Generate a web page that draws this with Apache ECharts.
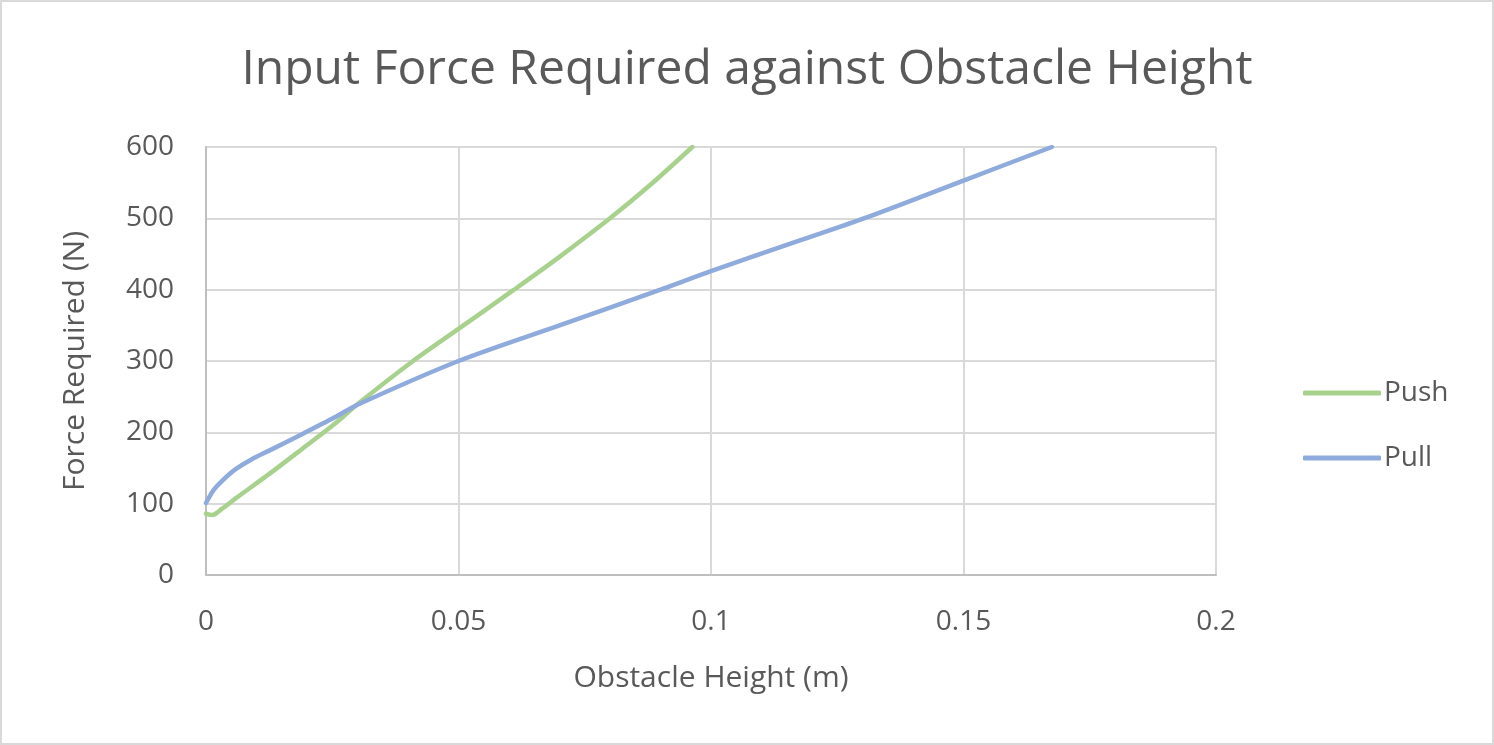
<!DOCTYPE html>
<html>
<head>
<meta charset="utf-8">
<title>Input Force Required against Obstacle Height</title>
<script src="https://cdn.jsdelivr.net/npm/echarts@6/dist/echarts.min.js"></script>
<style>
  html, body { margin: 0; padding: 0; background: #fff; }
  #chart { width: 1494px; height: 745px; box-sizing: border-box; border: 2px solid #d9d9d9; }
</style>
</head>
<body>
<div id="chart"></div>
<script>
// obstacle height (m) and force (N)
var pushHeight = [0, 0.0012, 0.0032, 0.0058, 0.0124, 0.0189, 0.0255, 0.0301, 0.041, 0.05, 0.061, 0.070, 0.080, 0.088, 0.0963];
var pushForce  = [86, 84, 93, 107, 141, 176, 212, 240, 300, 345, 400, 446, 500, 547, 600];

var pullHeight = [0, 0.0015, 0.0032, 0.0058, 0.009, 0.0124, 0.0189, 0.0255, 0.0301, 0.05, 0.07, 0.09, 0.1, 0.1176, 0.1307, 0.15, 0.1675];
var pullForce  = [101, 119, 132, 148, 162, 174, 197, 221, 239, 300, 350, 400, 426, 469, 501, 553, 600];

var seriesNames = ['Push', 'Pull'];

function pairs(xs, ys) {
    var arr = [];
    for (var i = 0; i < xs.length; i++) {
        arr.push([xs[i], ys[i]]);
    }
    return arr;
}

var font = 'Open Sans';
var textColor = '#595959';

var mychart = echarts.init(document.getElementById('chart'));
var option = {
    animation: false,
    title: {
        text: 'Input Force Required against Obstacle Height',
        left: 'center',
        top: 39,
        textStyle: {
            color: textColor,
            fontFamily: font,
            fontWeight: 'normal',
            fontSize: 48
        }
    },
    legend: {
        orient: 'vertical',
        left: 1296,
        top: 372,
        itemWidth: 78,
        itemHeight: 5,
        itemGap: 37,
        icon: 'roundRect',
        data: seriesNames,
        textStyle: {
            color: textColor,
            fontFamily: font,
            fontSize: 28,
            padding: [0, 0, 0, -2]
        }
    },
    grid: {
        left: 204,
        right: 276,
        top: 145,
        bottom: 168
    },
    xAxis: {
        type: 'value',
        min: 0,
        max: 0.2,
        interval: 0.05,
        name: 'Obstacle Height (m)',
        nameLocation: 'middle',
        nameGap: 88,
        nameTextStyle: { color: textColor, fontFamily: font, fontSize: 30 },
        axisLine: { show: true, lineStyle: { color: '#bfbfbf', width: 2 } },
        axisTick: { show: false },
        axisLabel: { color: textColor, fontFamily: font, fontSize: 28, margin: 33 },
        splitLine: { lineStyle: { color: '#d9d9d9', width: 2 } }
    },
    yAxis: {
        type: 'value',
        min: 0,
        max: 600,
        interval: 100,
        name: 'Force Required (N)',
        nameLocation: 'middle',
        nameGap: 116,
        nameTextStyle: { color: textColor, fontFamily: font, fontSize: 30 },
        axisLine: { show: true, lineStyle: { color: '#bfbfbf', width: 2 } },
        axisTick: { show: false },
        axisLabel: { color: textColor, fontFamily: font, fontSize: 28, margin: 32 },
        splitLine: { lineStyle: { color: '#d9d9d9', width: 2 } }
    },
    series: [{
        name: 'Push',
        type: 'line',
        smooth: 0.3,
        showSymbol: false,
        data: pairs(pushHeight, pushForce),
        itemStyle: { color: '#a9d18e' },
        lineStyle: { color: '#a9d18e', width: 4.5, cap: 'round' }
    }, {
        name: 'Pull',
        type: 'line',
        smooth: 0.3,
        showSymbol: false,
        data: pairs(pullHeight, pullForce),
        itemStyle: { color: '#8faadc' },
        lineStyle: { color: '#8faadc', width: 4.5, cap: 'round' }
    }]
};
mychart.setOption(option);
</script>
</body>
</html>
